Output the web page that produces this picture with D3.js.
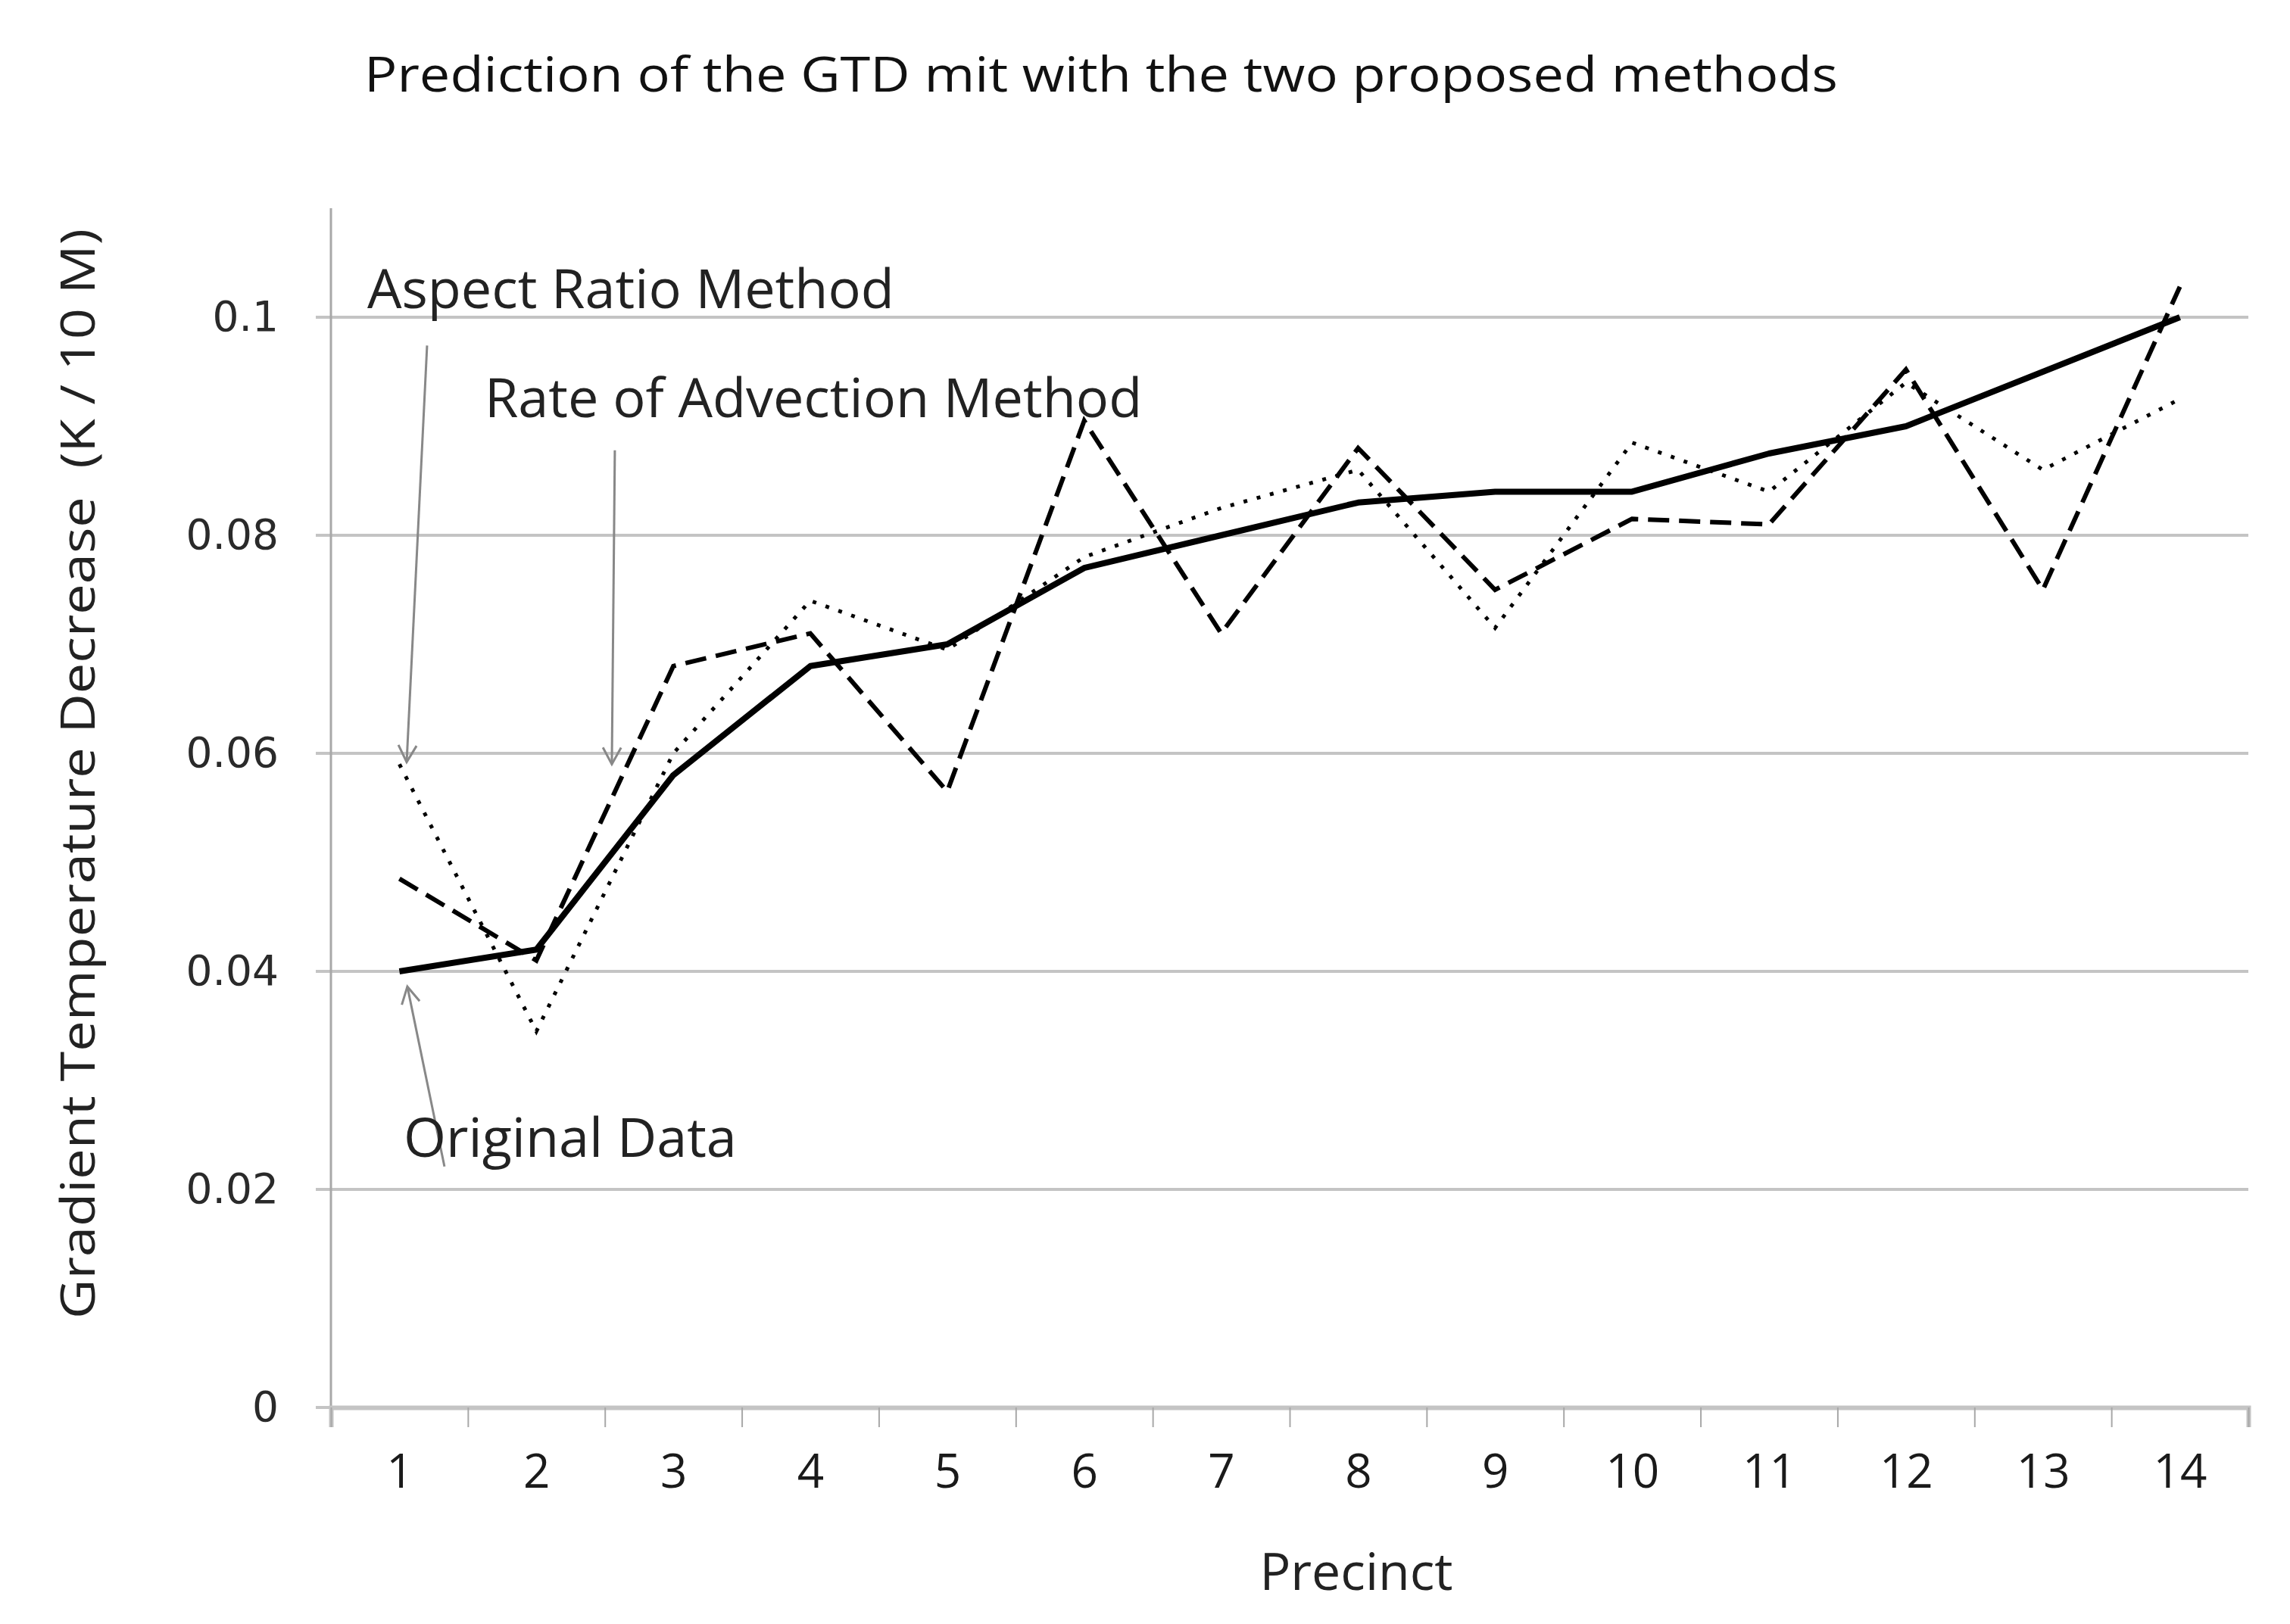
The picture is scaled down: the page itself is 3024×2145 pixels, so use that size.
<!DOCTYPE html>
<html>
<head>
<meta charset="utf-8">
<script src="https://cdn.jsdelivr.net/npm/d3@7"></script>
<style>
  body { margin: 0; background: #fff; }
  svg { display: block; }
</style>
</head>
<body>
<svg id="chart"></svg>
<script>
const precincts = [1, 2, 3, 4, 5, 6, 7, 8, 9, 10, 11, 12, 13, 14];
const originalData = [0.040, 0.042, 0.058, 0.068, 0.070, 0.077, 0.080, 0.083, 0.084, 0.084, 0.0875, 0.090, 0.095, 0.100];
const aspectRatio = [0.059, 0.0345, 0.060, 0.074, 0.0695, 0.078, 0.0825, 0.086, 0.0715, 0.0885, 0.084, 0.094, 0.086, 0.0925];
const advection = [0.0485, 0.041, 0.068, 0.071, 0.0565, 0.0905, 0.071, 0.088, 0.075, 0.0815, 0.081, 0.0952, 0.075, 0.1028];
const yTicks = [0, 0.02, 0.04, 0.06, 0.08, 0.1];

const width = 3024;
const height = 2145;
const margin = { top: 275, right: 3024 - 2969, bottom: 2145 - 1859, left: 437 };

const svg = d3.select("#chart").attr("width", width).attr("height", height);
svg.append("rect").attr("width", width).attr("height", height).attr("fill", "#fff");

// continuous x so that band centres sit on the integers
const x = d3.scaleLinear()
  .domain([0.5, precincts.length + 0.5])
  .range([margin.left, width - margin.right]);

const y = d3.scaleLinear()
  .domain([0, 0.11])
  .range([height - margin.bottom, margin.top]);

// gridlines
svg.append("g")
  .selectAll("line")
  .data(yTicks)
  .join("line")
  .attr("x1", margin.left - 20)
  .attr("x2", width - margin.right)
  .attr("y1", (d) => y(d))
  .attr("y2", (d) => y(d))
  .attr("stroke", "#c4c4c4")
  .attr("stroke-width", 4);

// y axis line
svg.append("line")
  .attr("x1", margin.left).attr("x2", margin.left)
  .attr("y1", y(0.11)).attr("y2", y(0))
  .attr("stroke", "#a8a8a8")
  .attr("stroke-width", 3);

// y tick labels
const yAxis = svg.append("g")
  .attr("transform", `translate(${margin.left - 66},0)`)
  .call(d3.axisLeft(y).tickValues(yTicks).tickSize(0).tickFormat((d) => (d === 0 ? "0" : String(+d.toFixed(2)))));
yAxis.select(".domain").remove();
yAxis.selectAll("text")
  .attr("font-family", "DejaVu Sans")
  .attr("font-size", 55)
  .attr("fill", "#2a2a2a");

// x axis: tick marks on the boundaries, labels on the centres
const xMarks = svg.append("g")
  .attr("transform", `translate(0,${y(0)})`)
  .call(d3.axisBottom(x).tickValues(d3.range(0.5, precincts.length + 1, 1)).tickSize(26).tickFormat(""));
xMarks.select(".domain").attr("stroke", "#c4c4c4").attr("stroke-width", 6);
xMarks.selectAll(".tick line").attr("stroke", "#a8a8a8").attr("stroke-width", 2);

const xLabels = svg.append("g")
  .attr("transform", `translate(0,${y(0)})`)
  .call(d3.axisBottom(x).tickValues(precincts).tickSize(0).tickPadding(62).tickFormat(d3.format("d")));
xLabels.select(".domain").remove();
xLabels.selectAll("text")
  .attr("font-family", "Open Sans")
  .attr("font-size", 62)
  .attr("fill", "#1a1a1a");

// series
const line = d3.line()
  .x((d, i) => x(precincts[i]))
  .y((d) => y(d));

svg.append("path")
  .datum(aspectRatio)
  .attr("d", line)
  .attr("fill", "none")
  .attr("stroke", "#000")
  .attr("stroke-width", 5)
  .attr("stroke-dasharray", "5,13");

svg.append("path")
  .datum(advection)
  .attr("d", line)
  .attr("fill", "none")
  .attr("stroke", "#000")
  .attr("stroke-width", 6)
  .attr("stroke-dasharray", "28,13");

svg.append("path")
  .datum(originalData)
  .attr("d", line)
  .attr("fill", "none")
  .attr("stroke", "#000")
  .attr("stroke-width", 8)
  .attr("stroke-linejoin", "round");

// annotations with arrows (anchored in data units)
svg.append("defs").append("marker")
  .attr("id", "arrow")
  .attr("viewBox", "-24 -14 28 28")
  .attr("refX", 0).attr("refY", 0)
  .attr("markerWidth", 28).attr("markerHeight", 28)
  .attr("markerUnits", "userSpaceOnUse")
  .attr("orient", "auto")
  .append("path")
  .attr("d", "M-22,-12 L0,0 L-22,12")
  .attr("fill", "none")
  .attr("stroke", "#888")
  .attr("stroke-width", 3);

const annotations = [
  { text: "Aspect Ratio Method", tx: 0.765, ty: 0.1008, from: [1.202, 0.0974], to: [1.053, 0.0592] },
  { text: "Rate of Advection Method", tx: 1.622, ty: 0.0908, from: [2.573, 0.0878], to: [2.551, 0.0590] },
  { text: "Original Data", tx: 1.031, ty: 0.0230, from: [1.329, 0.0221], to: [1.058, 0.0386] }
];

svg.append("g")
  .selectAll("line")
  .data(annotations)
  .join("line")
  .attr("x1", (d) => x(d.from[0]))
  .attr("y1", (d) => y(d.from[1]))
  .attr("x2", (d) => x(d.to[0]))
  .attr("y2", (d) => y(d.to[1]))
  .attr("stroke", "#888")
  .attr("stroke-width", 3)
  .attr("marker-end", "url(#arrow)");

svg.append("g")
  .selectAll("text")
  .data(annotations)
  .join("text")
  .attr("x", (d) => x(d.tx))
  .attr("y", (d) => y(d.ty))
  .attr("font-family", "Open Sans")
  .attr("font-size", 72)
  .attr("fill", "#222")
  .text((d) => d.text);

// title and axis titles
svg.append("text")
  .attr("x", 481)
  .attr("y", 121)
  .attr("textLength", 1946)
  .attr("lengthAdjust", "spacingAndGlyphs")
  .attr("font-family", "Open Sans")
  .attr("font-size", 64)
  .attr("fill", "#111")
  .text("Prediction of the GTD mit with the two proposed methods");

svg.append("text")
  .attr("x", 1791)
  .attr("y", 2100)
  .attr("text-anchor", "middle")
  .attr("font-family", "Open Sans")
  .attr("font-size", 68)
  .attr("fill", "#222")
  .text("Precinct");

svg.append("text")
  .attr("transform", "translate(101,1742) rotate(-90)")
  .attr("dominant-baseline", "central")
  .attr("textLength", 1440)
  .attr("lengthAdjust", "spacingAndGlyphs")
  .attr("font-family", "Open Sans")
  .attr("font-size", 62)
  .attr("fill", "#222")
  .attr("xml:space", "preserve")
  .text("Gradient Temperature Decrease  (K / 10 M)");
</script>
</body>
</html>
